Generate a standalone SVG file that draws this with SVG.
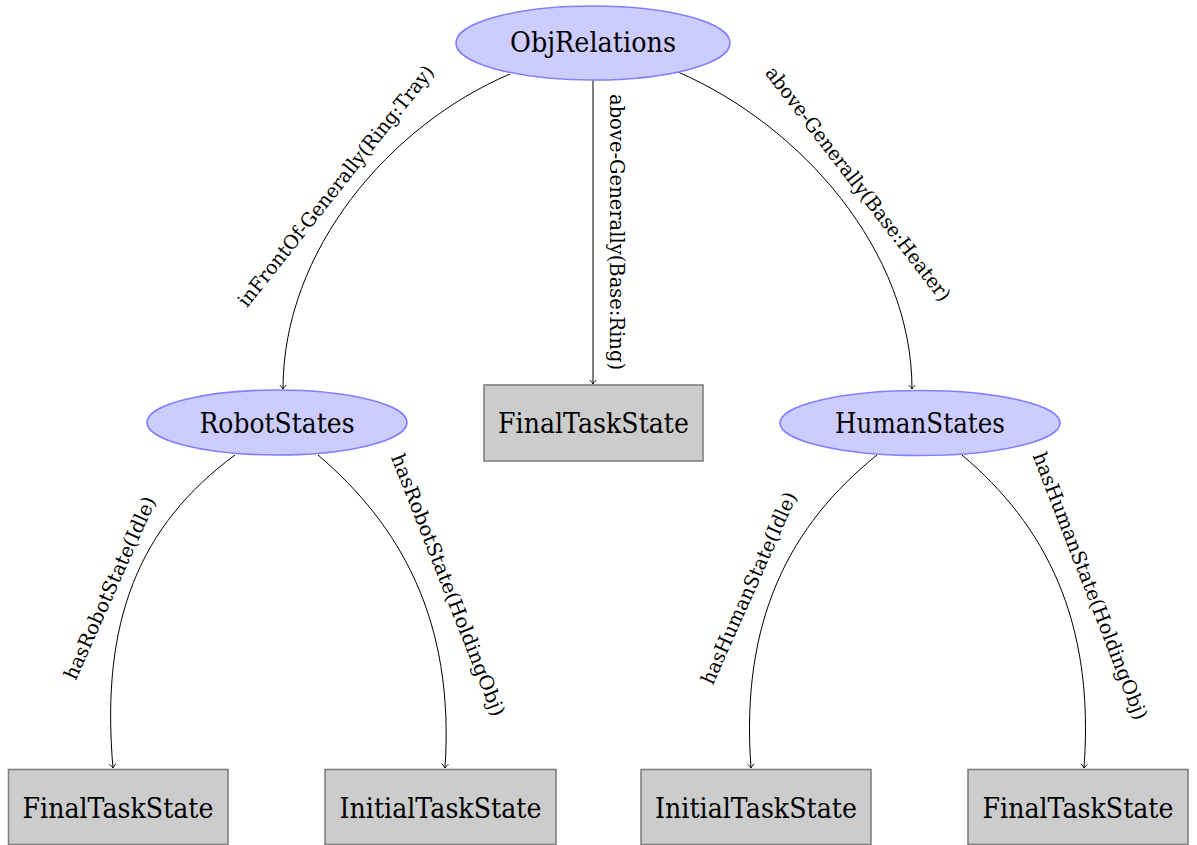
<svg xmlns="http://www.w3.org/2000/svg" width="1197" height="845" viewBox="0 0 1197 845">
<style>
.ell{fill:#ccccff;stroke:#8080ff;stroke-width:1.6}
.box{fill:#cccccc;stroke:#808080;stroke-width:1.6}
.nt{font-family:'DejaVu Serif','Liberation Serif','Times New Roman',serif;font-size:27px;fill:#000;text-anchor:middle}
.lt{font-family:'DejaVu Serif','Liberation Serif','Times New Roman',serif;font-size:19.5px;fill:#000;text-anchor:middle;dominant-baseline:central}
.edge{fill:none;stroke:#000;stroke-width:1;marker-end:url(#arr)}
</style>
<defs>
<marker id="arr" markerUnits="userSpaceOnUse" markerWidth="10" markerHeight="10" viewBox="-5 -5 10 10" refX="0" refY="0" orient="auto" overflow="visible">
<path d="M-4,-3.2 Q-1.2,-0.6 0,0 Q-1.2,0.6 -4,3.2" fill="none" stroke="#000" stroke-width="0.9"/>
</marker>
</defs>
<g id="connectors">
<path class="edge" d="M510,74 C390,125 283,250 283,389"/>
<path class="edge" d="M593,80 L593,384"/>
<path class="edge" d="M678,72 C800,125 912,250 912,389"/>
<path class="edge" d="M235,455 C140,525 100,620 113,768"/>
<path class="edge" d="M318,455 C400,525 455,620 445,768"/>
<path class="edge" d="M877,455 C790,525 740,620 751,768"/>
<path class="edge" d="M962,455 C1045,525 1095,620 1084,768"/>
<text class="lt" transform="translate(336,186) rotate(-51.5)" textLength="302" lengthAdjust="spacingAndGlyphs">inFrontOf-Generally(Ring:Tray)</text>
<text class="lt" transform="translate(616,232) rotate(90)" textLength="276" lengthAdjust="spacingAndGlyphs">above-Generally(Base:Ring)</text>
<text class="lt" transform="translate(858,184) rotate(52.4)" textLength="290" lengthAdjust="spacingAndGlyphs">above-Generally(Base:Heater)</text>
<text class="lt" transform="translate(110,588) rotate(-66)" textLength="198" lengthAdjust="spacingAndGlyphs">hasRobotState(Idle)</text>
<text class="lt" transform="translate(448,585) rotate(68.6)" textLength="280" lengthAdjust="spacingAndGlyphs">hasRobotState(HoldingObj)</text>
<text class="lt" transform="translate(749,588) rotate(-66)" textLength="208" lengthAdjust="spacingAndGlyphs">hasHumanState(Idle)</text>
<text class="lt" transform="translate(1090,586) rotate(68.8)" textLength="285" lengthAdjust="spacingAndGlyphs">hasHumanState(HoldingObj)</text>
</g>
<g id="ObjRelations">
<ellipse class="ell" cx="593" cy="43" rx="137" ry="37"/>
<text class="nt" x="593" y="52" textLength="166" lengthAdjust="spacingAndGlyphs">ObjRelations</text>
</g>
<g id="RobotStates">
<ellipse class="ell" cx="277" cy="422.5" rx="130" ry="32.5"/>
<text class="nt" x="277" y="433" textLength="155" lengthAdjust="spacingAndGlyphs">RobotStates</text>
</g>
<g id="FinalTaskState1">
<rect class="box" x="484" y="385" width="219" height="76"/>
<text class="nt" x="593.5" y="433" textLength="191" lengthAdjust="spacingAndGlyphs">FinalTaskState</text>
</g>
<g id="HumanStates">
<ellipse class="ell" cx="920" cy="423" rx="140" ry="32.5"/>
<text class="nt" x="920" y="433" textLength="170" lengthAdjust="spacingAndGlyphs">HumanStates</text>
</g>
<g id="FinalTaskState2">
<rect class="box" x="8.5" y="769.5" width="219.5" height="75"/>
<text class="nt" x="118" y="818" textLength="191" lengthAdjust="spacingAndGlyphs">FinalTaskState</text>
</g>
<g id="InitialTaskState1">
<rect class="box" x="325" y="769.5" width="231" height="75"/>
<text class="nt" x="440.5" y="818" textLength="202" lengthAdjust="spacingAndGlyphs">InitialTaskState</text>
</g>
<g id="InitialTaskState2">
<rect class="box" x="641" y="769.5" width="230" height="75"/>
<text class="nt" x="756" y="818" textLength="202" lengthAdjust="spacingAndGlyphs">InitialTaskState</text>
</g>
<g id="FinalTaskState3">
<rect class="box" x="968" y="769.5" width="220" height="75"/>
<text class="nt" x="1078" y="818" textLength="191" lengthAdjust="spacingAndGlyphs">FinalTaskState</text>
</g>
</svg>
